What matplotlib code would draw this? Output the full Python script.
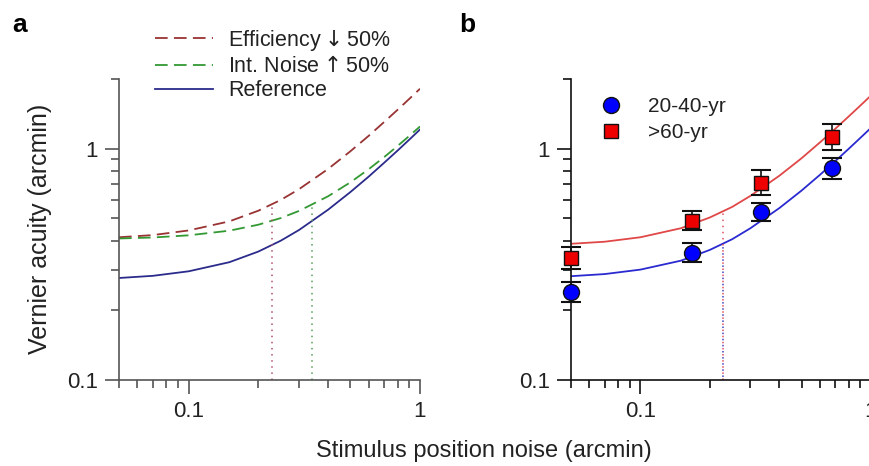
import numpy as np
import matplotlib
matplotlib.use('Agg')
import matplotlib.pyplot as plt
from matplotlib.ticker import FixedLocator, NullFormatter, FixedFormatter
from matplotlib.lines import Line2D

plt.rcParams['font.family'] = ['Liberation Sans', 'DejaVu Sans']

# Panel a: model curves
noise_a = [0.05, 0.07, 0.1, 0.15, 0.2, 0.25, 0.3, 0.4, 0.5, 0.6, 0.7, 0.8, 0.9, 1.0]
reference = [0.276, 0.282, 0.295, 0.323, 0.359, 0.400, 0.445, 0.544, 0.649, 0.757, 0.869, 0.981, 1.095, 1.21]
efficiency = [0.414, 0.423, 0.443, 0.485, 0.539, 0.600, 0.668, 0.816, 0.974, 1.136, 1.304, 1.472, 1.643, 1.815]
int_noise = [0.409, 0.413, 0.422, 0.442, 0.469, 0.501, 0.538, 0.622, 0.715, 0.815, 0.919, 1.027, 1.136, 1.247]
# vertical markers (x, top)
eff_mark = (0.229, 0.573)
noise_mark = (0.343, 0.573)

# Panel b: fitted curves
noise_b = noise_a
fit_young = [0.281, 0.287, 0.300, 0.328, 0.365, 0.406, 0.453, 0.553, 0.659, 0.770, 0.883, 0.998, 1.114, 1.23]
fit_old = [0.388, 0.396, 0.414, 0.453, 0.504, 0.560, 0.625, 0.763, 0.909, 1.063, 1.219, 1.377, 1.537, 1.697]
young_mark = (0.229, 0.388)
old_mark = (0.229, 0.536)

# Panel b: data points
pts_x = [0.05, 0.168, 0.334, 0.678]
young_y = [0.240, 0.355, 0.534, 0.827]
young_lo = [0.218, 0.324, 0.489, 0.740]
young_hi = [0.264, 0.390, 0.585, 0.915]
old_y = [0.337, 0.488, 0.713, 1.127]
old_lo = [0.302, 0.445, 0.628, 0.990]
old_hi = [0.374, 0.535, 0.810, 1.280]

fig = plt.figure(figsize=(8.7, 4.66), dpi=100)
ax_a = fig.add_axes([119/870, 86/466, 301/870, 301/466])
ax_b = fig.add_axes([571/870, 86/466, 300/870, 301/466])

def style_axes(ax, col):
    ax.set_xscale('log')
    ax.set_yscale('log')
    ax.set_xlim(0.05, 1.0)
    ax.set_ylim(0.1, 2.0)
    for s in ['top', 'right']:
        ax.spines[s].set_visible(False)
    for s in ['left', 'bottom']:
        ax.spines[s].set_color(col)
        ax.spines[s].set_linewidth(1.2)
    ax.xaxis.set_major_locator(FixedLocator([0.1, 1.0]))
    ax.xaxis.set_major_formatter(FixedFormatter(['0.1', '1']))
    ax.xaxis.set_minor_locator(FixedLocator([0.05, 0.06, 0.07, 0.08, 0.09] + [i/10 for i in range(2, 10)]))
    ax.xaxis.set_minor_formatter(NullFormatter())
    ax.yaxis.set_major_locator(FixedLocator([0.1, 1.0]))
    ax.yaxis.set_major_formatter(FixedFormatter(['0.1', '1']))
    ax.yaxis.set_minor_locator(FixedLocator([i/10 for i in range(2, 10)] + [2.0]))
    ax.yaxis.set_minor_formatter(NullFormatter())
    ax.tick_params(which='major', direction='out', length=10, width=1.2, color=col,
                   labelsize=16, labelcolor='#222222', pad=5)
    ax.tick_params(which='minor', direction='out', length=6, width=1.2, color=col)

style_axes(ax_a, '#555555')
style_axes(ax_b, '#111111')

# Panel a
ax_a.plot(noise_a, efficiency, color='#993333', lw=1.3, dashes=(7, 3.5), label='Efficiency$\\downarrow$50%')
ax_a.plot(noise_a, int_noise, color='#339933', lw=1.3, dashes=(7, 3.5), label='Int. Noise$\\uparrow$50%')
ax_a.plot(noise_a, reference, color='#2b2b8c', lw=1.3, label='Reference')
ax_a.plot([eff_mark[0]] * 2, [0.1, eff_mark[1]], color='#b0506a', lw=1.1, ls=(0, (1, 3)))
ax_a.plot([noise_mark[0]] * 2, [0.1, noise_mark[1]], color='#55a055', lw=1.1, ls=(0, (1, 3)))
leg = ax_a.legend(loc='upper left', bbox_to_anchor=(155/870, 1 - 27/466), bbox_transform=fig.transFigure,
                  frameon=False, fontsize=15.5, handlelength=2.7, handletextpad=0.7, labelspacing=0.15,
                  borderaxespad=0, borderpad=0)
for t in leg.get_texts():
    t.set_color('#222222')

# Panel b
ax_b.plot(noise_b, fit_old, color='#e04848', lw=1.3)
ax_b.plot(noise_b, fit_young, color='#2a2ad0', lw=1.3)
ax_b.plot([old_mark[0]] * 2, [0.1, old_mark[1]], color='#e05060', lw=1.1, ls=(0, (1, 3)))
ax_b.plot([young_mark[0]] * 2, [0.1, young_mark[1]], color='#4040c0', lw=1.1, ls=(2, (1, 3)))

yerr_y = [np.array(young_y) - np.array(young_lo), np.array(young_hi) - np.array(young_y)]
yerr_o = [np.array(old_y) - np.array(old_lo), np.array(old_hi) - np.array(old_y)]
eb1 = ax_b.errorbar(pts_x, young_y, yerr=yerr_y, fmt='none', ecolor='#111111', elinewidth=1.2,
                    capsize=7.5, capthick=1.5, clip_on=False, zorder=4)
eb2 = ax_b.errorbar(pts_x, old_y, yerr=yerr_o, fmt='none', ecolor='#111111', elinewidth=1.2,
                    capsize=7.5, capthick=1.5, clip_on=False, zorder=4)
for eb in (eb1, eb2):
    for c in eb.get_children():
        c.set_clip_on(False)
ax_b.plot(pts_x, young_y, 'o', ms=11.5, mfc='#0000ff', mec='#111111', mew=1.0, clip_on=False, zorder=5)
ax_b.plot(pts_x, old_y, 's', ms=10.5, mfc='#ee0000', mec='#111111', mew=1.0, clip_on=False, zorder=5)

handles = [Line2D([], [], ls='none', marker='o', ms=11.5, mfc='#0000ff', mec='#111111'),
           Line2D([], [], ls='none', marker='s', ms=10.5, mfc='#ee0000', mec='#111111')]
leg_b = ax_b.legend(handles, ['20-40-yr', '>60-yr'], loc='upper left', bbox_to_anchor=(590/870, 1 - 97/466),
                    bbox_transform=fig.transFigure, frameon=False, fontsize=15, handletextpad=0.8,
                    labelspacing=0.35, borderaxespad=0, borderpad=0)
for t in leg_b.get_texts():
    t.set_color('#222222')

# labels
fig.text(20/870, 1 - 25/466, 'a', fontsize=19, fontweight='bold', ha='center', va='center')
fig.text(467/870, 1 - 25/466, 'b', fontsize=19, fontweight='bold', ha='center', va='center')
fig.text(40/870, 1 - 229/466, 'Vernier acuity (arcmin)', fontsize=18, rotation=90, ha='center', va='center',
         color='#222222')
fig.text(484/870, 1 - 451/466, 'Stimulus position noise (arcmin)', fontsize=17, ha='center', va='center',
         color='#222222')

fig.savefig('out.png', dpi=100, facecolor='white')
